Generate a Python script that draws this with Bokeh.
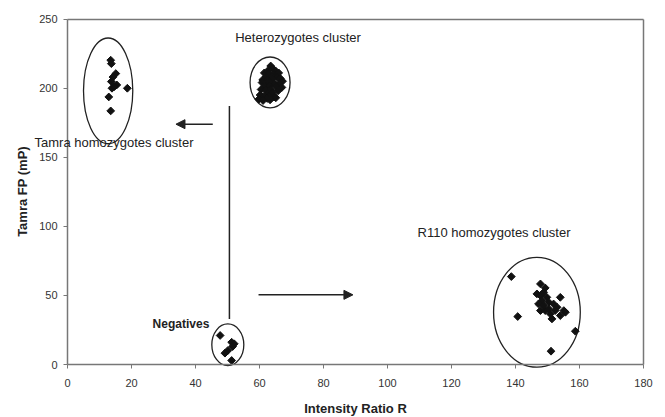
import numpy as np
from bokeh.plotting import figure
from bokeh.models import Label, Arrow, NormalHead, FixedTicker, Range1d, LinearAxis
from bokeh.embed import file_html
from bokeh.resources import INLINE

# Tamra homozygotes cluster
tamra_x = [13.5, 13.7, 15.1, 14.2, 13.7, 15.4, 13.9, 18.7, 12.9, 13.5, 14.6]
tamra_y = [220.2, 217.7, 210.5, 208.0, 204.7, 202.3, 199.9, 199.9, 193.6, 183.5, 201.0]

# Heterozygotes cluster
het_x = [63.5, 64.2, 62.8, 65.0, 61.5, 63.0, 64.5, 66.0, 62.0, 63.8, 65.5, 61.0, 62.5,
         64.0, 66.5, 67.2, 60.8, 62.2, 63.4, 64.8, 66.2, 61.8, 63.1, 65.2, 67.0, 60.5,
         61.9, 63.6, 65.8, 62.6, 64.1, 60.2, 61.4, 63.0, 64.6, 59.8, 62.4, 65.1, 61.1, 63.3]
het_y = [216, 214, 213, 212.5, 211, 210.5, 210, 211, 208, 208.5, 208, 206, 206,
         206.5, 207, 205, 204, 203.5, 204, 203, 203.5, 201, 201.5, 201, 200.5, 199,
         198.5, 199, 198, 196, 196.5, 195, 194, 194, 193.5, 192, 192.5, 193, 191, 191.5]

# R110 homozygotes cluster
r110_x = [147.8, 149.3, 146.7, 147.8, 148.8, 149.8, 148.3, 150.4, 154.0, 151.9, 153.0,
          155.1, 147.8, 149.3, 150.9, 151.4, 154.0, 155.6, 150.4, 152.4, 147.2, 148.8,
          138.7, 140.7, 158.7, 151.1]
r110_y = [58.3, 55.4, 51.1, 49.9, 52.2, 48.6, 46.2, 45.0, 48.6, 43.8, 41.4,
          39.0, 39.0, 39.0, 36.6, 33.0, 35.4, 37.8, 40.2, 39.0, 43.8, 42.6,
          63.6, 34.7, 24.1, 9.6]

# Negatives
neg_x = [47.7, 51.3, 52.1, 50.1, 49.2, 51.3, 51.6]
neg_y = [21.0, 16.1, 15.0, 10.1, 8.2, 2.9, 13.0]

# Cluster ellipses: centre x, centre y, width, height
ell_x = [12.7, 63.3, 146.7, 50.1]
ell_y = [198.0, 204.1, 37.8, 14.3]
ell_w = [15.4, 12.5, 27.1, 10.0]
ell_h = [76.6, 36.8, 79.5, 30.1]

x_ticks = [0, 20, 40, 60, 80, 100, 120, 140, 160, 180]
y_ticks = [0, 50, 100, 150, 200, 250]
X_MIN, X_MAX = 0, 180
Y_MIN, Y_MAX = 0, 250

FONT = "Liberation Sans"
AXIS_COLOR = "#777777"

# The frame fills the whole canvas; all axes are pinned at the data edges
# so that the texts that reach left of x=0 are not clipped.
p = figure(width=665, height=417, output_backend="svg", toolbar_location=None,
           x_range=Range1d(-20.94, 186.88), y_range=Range1d(-38.35, 263.39),
           min_border_left=0, min_border_right=0, min_border_top=0, min_border_bottom=0)

p.xgrid.visible = False
p.ygrid.visible = False
p.outline_line_color = None

for ax in (p.xaxis, p.yaxis):
    ax.axis_line_color = AXIS_COLOR
    ax.axis_line_width = 1.5
    ax.major_tick_line_color = AXIS_COLOR
    ax.major_tick_out = 4
    ax.major_tick_in = 0
    ax.minor_tick_line_color = None
    ax.major_label_text_font = FONT
    ax.major_label_text_font_size = "11px"
    ax.major_label_text_color = "#333333"

p.xaxis.ticker = FixedTicker(ticks=x_ticks)
p.yaxis.ticker = FixedTicker(ticks=y_ticks)
p.xaxis.bounds = (X_MIN, X_MAX)
p.yaxis.bounds = (Y_MIN, Y_MAX)
p.xaxis.fixed_location = Y_MIN
p.yaxis.fixed_location = X_MIN
p.xaxis.major_label_standoff = 10
p.yaxis.major_label_standoff = 6

# top and right border lines
top = LinearAxis(ticker=FixedTicker(ticks=[]), bounds=(X_MIN, X_MAX), fixed_location=Y_MAX,
                 axis_line_color=AXIS_COLOR, axis_line_width=1.5,
                 major_tick_line_color=None, minor_tick_line_color=None)
right = LinearAxis(ticker=FixedTicker(ticks=[]), bounds=(Y_MIN, Y_MAX), fixed_location=X_MAX,
                   axis_line_color=AXIS_COLOR, axis_line_width=1.5,
                   major_tick_line_color=None, minor_tick_line_color=None)
p.add_layout(top, "above")
p.add_layout(right, "right")

# axis titles
p.add_layout(Label(x=(X_MIN + X_MAX) / 2, y=-31.8, text="Intensity Ratio R",
                   text_font=FONT, text_font_size="13px", text_font_style="bold",
                   text_align="center", text_baseline="middle", text_color="#222222"))
p.add_layout(Label(x=-14.06, y=125.2, text="Tamra FP (mP)", angle=np.pi / 2,
                   text_font=FONT, text_font_size="13px", text_font_style="bold",
                   text_align="center", text_baseline="middle", text_color="#222222"))

p.ellipse(x=ell_x, y=ell_y, width=ell_w, height=ell_h, fill_color=None,
          line_color="#222222", line_width=1.3)

for xs, ys in ((tamra_x, tamra_y), (het_x, het_y), (r110_x, r110_y), (neg_x, neg_y)):
    p.scatter(x=xs, y=ys, marker="square", angle=np.pi / 4, size=5.5,
              fill_color="#111111", line_color="#111111")

# arrows / line
p.segment(x0=[50.6], y0=[187], x1=[50.6], y1=[33], line_color="#222222", line_width=1.5)
p.add_layout(Arrow(x_start=45.4, y_start=173.9, x_end=33.9, y_end=173.9,
                   line_color="#222222", line_width=1.5,
                   end=NormalHead(size=9, fill_color="#222222", line_color="#222222")))
p.add_layout(Arrow(x_start=59.7, y_start=50.4, x_end=89.2, y_end=50.4,
                   line_color="#222222", line_width=1.5,
                   end=NormalHead(size=9, fill_color="#222222", line_color="#222222")))

labels = [
    ("Heterozygotes cluster", 52.4, 236.5, "normal", "13px"),
    ("Tamra homozygotes cluster", -10.3, 160.6, "normal", "13px"),
    ("R110 homozygotes cluster", 109.4, 95.6, "normal", "13px"),
    ("Negatives", 26.6, 29.6, "bold", "12px"),
]
for txt, lx, ly, style, fs in labels:
    p.add_layout(Label(x=lx, y=ly, text=txt, text_font=FONT, text_font_size=fs,
                       text_font_style=style, text_baseline="middle", text_align="left",
                       text_color="#222222"))

open("out.html", "w").write(file_html(p, INLINE))
